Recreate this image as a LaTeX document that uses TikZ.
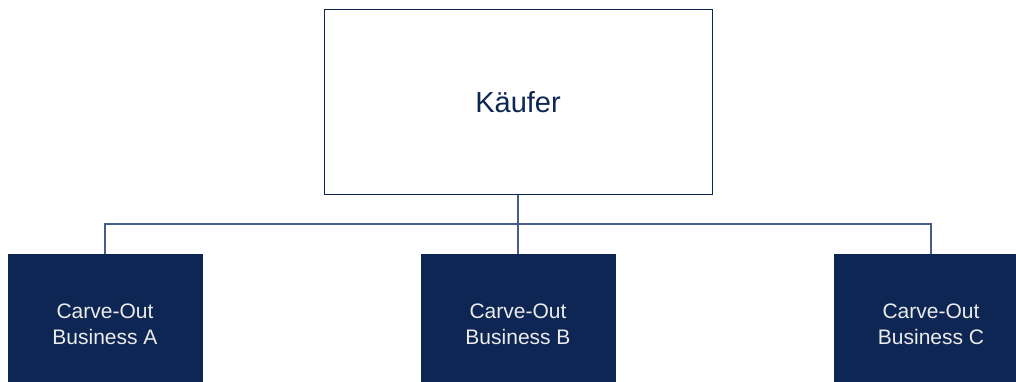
\documentclass[tikz,border=0pt]{standalone}
\usepackage{fontspec}
\setmainfont{Liberation Sans}
\begin{document}
\begin{tikzpicture}[x=1pt,y=-1pt,
  topbox/.style={draw=navy,line width=1pt,fill=white,minimum width=388pt,minimum height=184pt,inner sep=0pt,text=navy,font=\fontsize{29}{32}\selectfont},
  childbox/.style={fill=navy,draw=navy,minimum width=194pt,minimum height=140pt,inner sep=0pt,text=childtext,align=center,font=\fontsize{21}{25.5}\selectfont},
  conn/.style={draw=connblue,line width=1.2pt}]
\definecolor{navy}{RGB}{14,38,84}
\definecolor{connblue}{RGB}{70,95,135}
\definecolor{childtext}{RGB}{235,235,235}
\useasboundingbox (0,0) rectangle (1016,382);
\node[topbox] (K) at (518,102) {Käufer};
\node[childbox,anchor=north] (A) at (105,254) {\raisebox{-4.5pt}{\parbox{194pt}{\centering Carve-Out\\Business A}}};
\node[childbox,anchor=north] (B) at (518,254) {\raisebox{-4.5pt}{\parbox{194pt}{\centering Carve-Out\\Business B}}};
\node[childbox,anchor=north] (C) at (931,254) {\raisebox{-4.5pt}{\parbox{194pt}{\centering Carve-Out\\Business C}}};
\coordinate (J) at (518,224);
\draw[conn] (K.south) -- (J);
\draw[conn] (J) -| (A.north);
\draw[conn] (J) -| (C.north);
\draw[conn] (J) -- (B.north);
\end{tikzpicture}
\end{document}
